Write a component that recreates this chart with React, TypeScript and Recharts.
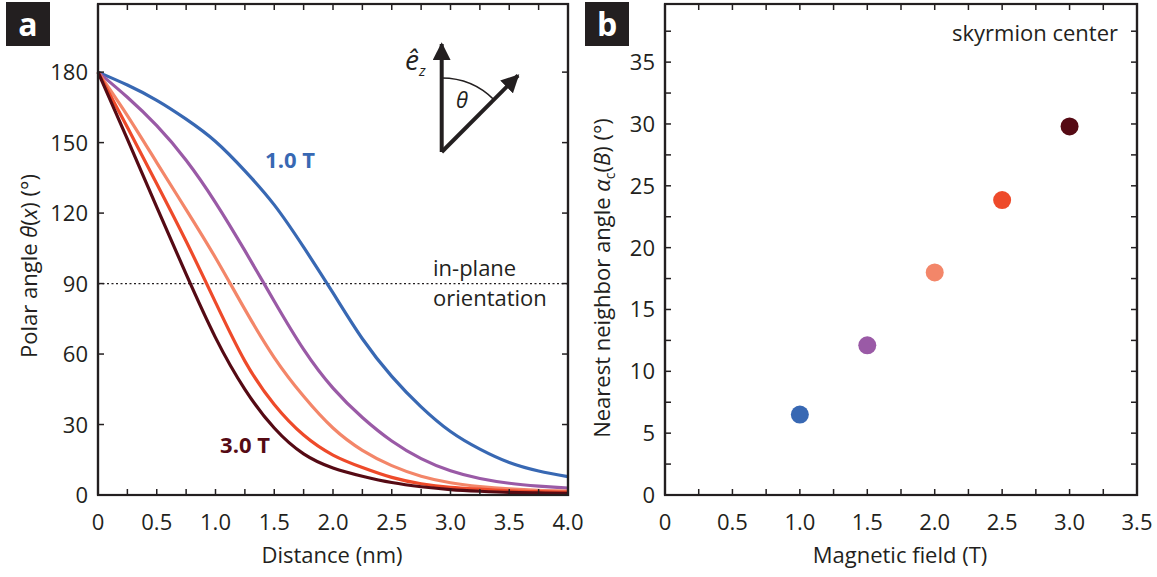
import React from 'react';
import {
  LineChart, Line, XAxis, YAxis, ReferenceLine,
  ScatterChart, Scatter, Cell,
} from 'recharts';

// panel a: polar angle profiles, one per field
const distance = [0, 0.25, 0.5, 0.75, 1.0, 1.25, 1.5, 1.75, 2.0, 2.25, 2.5, 2.75, 3.0, 3.25, 3.5, 3.75, 4.0];
const theta10 = [180, 174.5, 168, 160, 150.5, 138, 123.5, 105.5, 86, 66.5, 50.5, 37.5, 27, 19.5, 13.8, 10.2, 7.8];
const theta15 = [180, 169.3, 157.2, 142.5, 124.5, 104, 82.5, 62, 45.5, 33, 23, 15.5, 10.3, 7, 5, 3.8, 2.9];
const theta20 = [180, 161.5, 141.5, 121.5, 101, 79, 58.5, 42, 28.5, 19, 12.5, 8, 5.2, 3.6, 2.6, 2.0, 1.7];
const theta25 = [180, 156.5, 132.5, 108, 82, 57, 38.5, 25.5, 17, 11.7, 7.5, 4.8, 3.3, 2.5, 1.8, 1.4, 1.2];
const theta30 = [180, 151.5, 122.5, 94, 67, 45, 28.5, 17.5, 11.5, 8, 5.3, 3.5, 2.3, 1.6, 1.1, 0.9, 0.7];

const xTicksA = [0, 0.25, 0.5, 0.75, 1.0, 1.25, 1.5, 1.75, 2.0, 2.25, 2.5, 2.75, 3.0, 3.25, 3.5, 3.75, 4.0];
const yTicksA = [0, 30, 60, 90, 120, 150, 180];

// panel b: nearest neighbour angle at the skyrmion center
const field = [1.0, 1.5, 2.0, 2.5, 3.0];
const alphaC = [6.5, 12.1, 18.0, 23.85, 29.8];

const xTicksB = [0, 0.25, 0.5, 0.75, 1.0, 1.25, 1.5, 1.75, 2.0, 2.25, 2.5, 2.75, 3.0, 3.25, 3.5];
const yTicksB = [0, 2.5, 5, 7.5, 10, 12.5, 15, 17.5, 20, 22.5, 25, 27.5, 30, 32.5, 35, 37.5];

const BLUE = '#3868b3';
const PURPLE = '#9a5aa6';
const SALMON = '#f38669';
const RED = '#ee4a2a';
const MAROON = '#550a14';
const FIELD_COLORS = [BLUE, PURPLE, SALMON, RED, MAROON];

const INK = '#231f20';
const FONT = '"Open Sans", sans-serif';
const FS = 22;

// chart geometry (both panels share height)
const H = 577;
const M_TOP = 4;
const M_BOTTOM = 42;
const X_AXIS_H = 40;
const Y_AXIS_W = 60;
const PLOT_H = H - M_TOP - M_BOTTOM - X_AXIS_H;

const W_A = 590;
const M_A = { top: M_TOP, right: 22, bottom: M_BOTTOM, left: 38 };
const PLOT_W_A = W_A - M_A.left - M_A.right - Y_AXIS_W;

const LEFT_B = 580;
const W_B = 577;
const M_B = { top: M_TOP, right: 20, bottom: M_BOTTOM, left: 25 };
const PLOT_W_B = W_B - M_B.left - M_B.right - Y_AXIS_W;

const rowsA = distance.map((d, i) => ({
  d,
  t10: theta10[i],
  t15: theta15[i],
  t20: theta20[i],
  t25: theta25[i],
  t30: theta30[i],
}));

const rowsB = field.map((b, i) => ({ b, a: alphaC[i] }));

const fmtX = (v: number) => (v === 0 ? '0' : v.toFixed(1));
const isMult = (v: number, step: number) => Math.abs(v / step - Math.round(v / step)) < 1e-6;

const TICK = 6;
const FRAME = 2.2;

// bottom ticks also mirror onto the top edge of the box
function makeBottomTick(plotW: number) {
  return function BottomTick(props: any) {
    const { x, y, payload } = props;
    const v = payload.value;
    const top = y - PLOT_H;
    return (
      <g>
        {v === 0 && <line x1={x - 1} x2={x + plotW + 1} y1={top} y2={top} stroke={INK} strokeWidth={FRAME} />}
        <line x1={x} x2={x} y1={y} y2={y - TICK} stroke={INK} strokeWidth={1.5} />
        <line x1={x} x2={x} y1={top} y2={top + TICK} stroke={INK} strokeWidth={1.5} />
        {isMult(v, 0.5) && (
          <text x={x} y={y + 35} textAnchor="middle" fontFamily={FONT} fontSize={FS} fill={INK}>
            {fmtX(v)}
          </text>
        )}
      </g>
    );
  };
}

// left ticks also mirror onto the right edge of the box
function makeLeftTick(step: number, plotW: number) {
  return function LeftTick(props: any) {
    const { x, y, payload } = props;
    const v = payload.value;
    const right = x + plotW;
    return (
      <g>
        {v === 0 && <line x1={right} x2={right} y1={y + 1} y2={y - PLOT_H - 1} stroke={INK} strokeWidth={FRAME} />}
        <line x1={x} x2={x + TICK} y1={y} y2={y} stroke={INK} strokeWidth={1.5} />
        <line x1={right} x2={right - TICK} y1={y} y2={y} stroke={INK} strokeWidth={1.5} />
        {isMult(v, step) && (
          <text x={x - 10} y={y + 8} textAnchor="end" fontFamily={FONT} fontSize={FS} fill={INK}>
            {v}
          </text>
        )}
      </g>
    );
  };
}

const BottomTickA = makeBottomTick(PLOT_W_A);
const BottomTickB = makeBottomTick(PLOT_W_B);
const LeftTickA = makeLeftTick(30, PLOT_W_A);
const LeftTickB = makeLeftTick(5, PLOT_W_B);

const axisLine = { stroke: INK, strokeWidth: FRAME };

function Dot(props: any) {
  const { cx, cy, fill } = props;
  return <circle cx={cx} cy={cy} r={9} fill={fill} />;
}

function PanelTag({ x, label }: { x: number; label: string }) {
  return (
    <g>
      <rect x={x} y={2} width={44} height={44} fill="#231f20" />
      <text x={x + 22} y={36} textAnchor="middle" fontFamily={FONT} fontWeight={700} fontSize={32} fill="#fff">
        {label}
      </text>
    </g>
  );
}

export default function App() {
  return (
    <div style={{ position: 'absolute', left: 0, top: 0, width: 1157, height: 577, background: '#fff' }}>
      <div style={{ position: 'absolute', left: 0, top: 0 }}>
        <LineChart width={W_A} height={H} data={rowsA} margin={M_A}>
          <XAxis
            dataKey="d"
            type="number"
            domain={[0, 4]}
            ticks={xTicksA}
            interval={0}
            height={X_AXIS_H}
            tickSize={0}
            tickMargin={0}
            tickLine={false}
            axisLine={axisLine}
            tick={<BottomTickA />}
          />
          <YAxis
            type="number"
            domain={[0, 209]}
            ticks={yTicksA}
            interval={0}
            width={Y_AXIS_W}
            tickSize={0}
            tickMargin={0}
            tickLine={false}
            axisLine={axisLine}
            tick={<LeftTickA />}
            allowDataOverflow
          />
          <ReferenceLine y={90} stroke={INK} strokeWidth={1.2} strokeDasharray="2 2.5" />
          <Line dataKey="t10" type="natural" stroke={BLUE} strokeWidth={3.2} dot={false} isAnimationActive={false} />
          <Line dataKey="t15" type="natural" stroke={PURPLE} strokeWidth={3.2} dot={false} isAnimationActive={false} />
          <Line dataKey="t20" type="natural" stroke={SALMON} strokeWidth={3.2} dot={false} isAnimationActive={false} />
          <Line dataKey="t25" type="natural" stroke={RED} strokeWidth={3.2} dot={false} isAnimationActive={false} />
          <Line dataKey="t30" type="natural" stroke={MAROON} strokeWidth={3.2} dot={false} isAnimationActive={false} />
        </LineChart>
      </div>

      <div style={{ position: 'absolute', left: LEFT_B, top: 0 }}>
        <ScatterChart width={W_B} height={H} margin={M_B}>
          <XAxis
            dataKey="b"
            type="number"
            domain={[0, 3.5]}
            ticks={xTicksB}
            interval={0}
            height={X_AXIS_H}
            tickSize={0}
            tickMargin={0}
            tickLine={false}
            axisLine={axisLine}
            tick={<BottomTickB />}
          />
          <YAxis
            dataKey="a"
            type="number"
            domain={[0, 39.7]}
            ticks={yTicksB}
            interval={0}
            width={Y_AXIS_W}
            tickSize={0}
            tickMargin={0}
            tickLine={false}
            axisLine={axisLine}
            tick={<LeftTickB />}
            allowDataOverflow
          />
          <Scatter data={rowsB} shape={<Dot />} isAnimationActive={false}>
            {rowsB.map((_, i) => (
              <Cell key={i} fill={FIELD_COLORS[i]} />
            ))}
          </Scatter>
        </ScatterChart>
      </div>

      <svg width={1157} height={577} style={{ position: 'absolute', left: 0, top: 0, pointerEvents: 'none' }}>
        <defs>
          <marker id="head" viewBox="0 0 10 10" refX="9" refY="5" markerWidth="4.5" markerHeight="4.5" orient="auto">
            <path d="M0,0 L10,5 L0,10 z" fill={INK} />
          </marker>
        </defs>

        {/* box frames around both plot areas */}
        <rect
          x={M_A.left + Y_AXIS_W}
          y={M_TOP}
          width={PLOT_W_A}
          height={PLOT_H}
          fill="none"
          stroke={INK}
          strokeWidth={FRAME}
        />
        <rect
          x={LEFT_B + M_B.left + Y_AXIS_W}
          y={M_TOP}
          width={PLOT_W_B}
          height={PLOT_H}
          fill="none"
          stroke={INK}
          strokeWidth={FRAME}
        />

        <PanelTag x={6} label="a" />
        <PanelTag x={585} label="b" />

        {/* axis titles */}
        <text x={332} y={563} textAnchor="middle" fontFamily={FONT} fontSize={FS} fill={INK}>Distance (nm)</text>
        <text x={900} y={563} textAnchor="middle" fontFamily={FONT} fontSize={FS} fill={INK}>Magnetic field (T)</text>
        <text transform="translate(37,266) rotate(-90)" textAnchor="middle" fontFamily={FONT} fontSize={FS} fill={INK}>
          Polar angle <tspan fontStyle="italic">θ</tspan>(<tspan fontStyle="italic">x</tspan>) (°)
        </text>
        <text transform="translate(610,278) rotate(-90)" textAnchor="middle" fontFamily={FONT} fontSize={FS} fill={INK}>
          Nearest neighbor angle <tspan fontStyle="italic">α</tspan>
          <tspan fontSize={14} dy={5}>c</tspan>
          <tspan dy={-5}>(</tspan><tspan fontStyle="italic">B</tspan>) (°)
        </text>

        {/* annotations */}
        <text x={290} y={168} textAnchor="middle" fontFamily={FONT} fontWeight={700} fontSize={FS} fill={BLUE}>1.0 T</text>
        <text x={245} y={453} textAnchor="middle" fontFamily={FONT} fontWeight={700} fontSize={FS} fill={MAROON}>3.0 T</text>
        <text x={433} y={276} fontFamily={FONT} fontSize={FS} fill={INK}>in-plane</text>
        <text x={433} y={306} fontFamily={FONT} fontSize={FS} fill={INK}>orientation</text>
        <text x={1118} y={41} textAnchor="end" fontFamily={FONT} fontSize={FS} fill={INK}>skyrmion center</text>

        {/* e_z / theta sketch */}
        <line x1={441.7} y1={152} x2={441.7} y2={44} stroke={INK} strokeWidth={4} markerEnd="url(#head)" />
        <line x1={441.7} y1={152} x2={518} y2={75.5} stroke={INK} strokeWidth={4} markerEnd="url(#head)" />
        <path d="M441.7,78 A74,74 0 0 1 494,99.7" fill="none" stroke={INK} strokeWidth={1.6} />
        <text x={462} y={108} textAnchor="middle" fontFamily={FONT} fontStyle="italic" fontSize={FS} fill={INK}>θ</text>
        <text x={405} y={70} fontFamily={FONT} fontStyle="italic" fontSize={28} fill={INK}>
          ê<tspan fontSize={15} dy={6}>z</tspan>
        </text>
      </svg>
    </div>
  );
}
